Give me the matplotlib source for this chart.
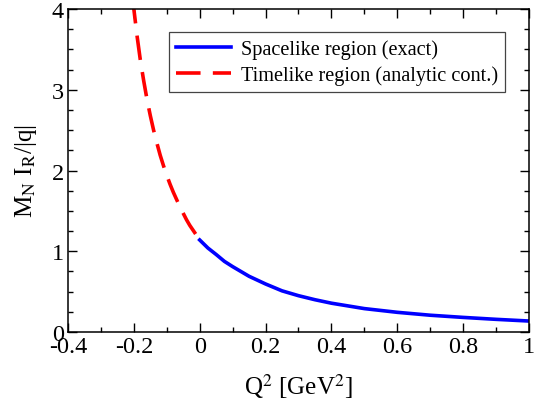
import matplotlib
matplotlib.use("Agg")
import matplotlib.pyplot as plt
from matplotlib.ticker import MultipleLocator

# spacelike branch (Q^2 >= 0)
q2_space = [0.0, 0.025, 0.05, 0.075, 0.1, 0.15, 0.2, 0.25, 0.3, 0.35, 0.4,
            0.5, 0.6, 0.7, 0.8, 0.9, 1.0]
ir_space = [1.14, 1.04, 0.96, 0.875, 0.81, 0.69, 0.595, 0.51, 0.45, 0.40, 0.357,
            0.29, 0.244, 0.208, 0.181, 0.157, 0.136]

# timelike branch (analytic continuation, Q^2 < 0)
q2_time = [-0.205, -0.20, -0.19, -0.18, -0.17, -0.16, -0.15, -0.14, -0.13, -0.12, -0.11,
           -0.10, -0.09, -0.08, -0.07, -0.06, -0.05, -0.04, -0.03, -0.02, -0.01, 0.0]
ir_time = [4.19, 4.00, 3.66, 3.36, 3.11, 2.88, 2.68, 2.50, 2.34, 2.19, 2.06,
           1.94, 1.83, 1.73, 1.64, 1.55, 1.47, 1.39, 1.32, 1.26, 1.20, 1.14]

plt.rcParams['font.family'] = ['Liberation Serif', 'DejaVu Serif']
plt.rcParams['mathtext.fontset'] = 'stix'

fig = plt.figure(figsize=(5.34, 4.02), dpi=100)
ax = fig.add_axes([0.1273, 0.1716, 0.8633, 0.8035])

ax.plot(q2_space, ir_space, color='blue', lw=2.6, label='Spacelike region (exact)')
ax.plot(q2_time, ir_time, color='red', lw=2.6, dashes=(6.8, 3.4),
        label='Timelike region (analytic cont.)')

ax.set_xlim(-0.4, 1.0)
ax.set_ylim(0, 4)
ax.xaxis.set_minor_locator(MultipleLocator(0.1))
ax.yaxis.set_minor_locator(MultipleLocator(0.25))
ax.set_xticks([-0.4, -0.2, 0, 0.2, 0.4, 0.6, 0.8, 1.0])
ax.set_xticklabels(['-0.4', '-0.2', '0', '0.2', '0.4', '0.6', '0.8', '1'])
ax.set_yticks([0, 1, 2, 3, 4])
ax.set_yticklabels(['0', '1', '2', '3', '4'])

ax.tick_params(which='both', direction='in', top=True, right=True, width=1.0)
ax.tick_params(which='major', length=6.5, labelsize=17.5, pad=3)
ax.tick_params(which='minor', length=3.3)
for s in ax.spines.values():
    s.set_linewidth(1.1)

ax.set_xlabel(r'Q$^2$ [GeV$^2$]', fontsize=18, labelpad=10)
ax.set_ylabel(r'M$_\mathrm{N}$ I$_\mathrm{R}$/|q|', fontsize=18, labelpad=9)

leg = ax.legend(loc='upper left', bbox_to_anchor=(0.219, 0.928), borderaxespad=0,
                fontsize=14.6, fancybox=False, edgecolor='#444444', framealpha=1,
                handlelength=2.7, handletextpad=0.5, borderpad=0.35, labelspacing=0.3)
leg.get_frame().set_linewidth(0.9)

fig.savefig('out.png', dpi=100)
